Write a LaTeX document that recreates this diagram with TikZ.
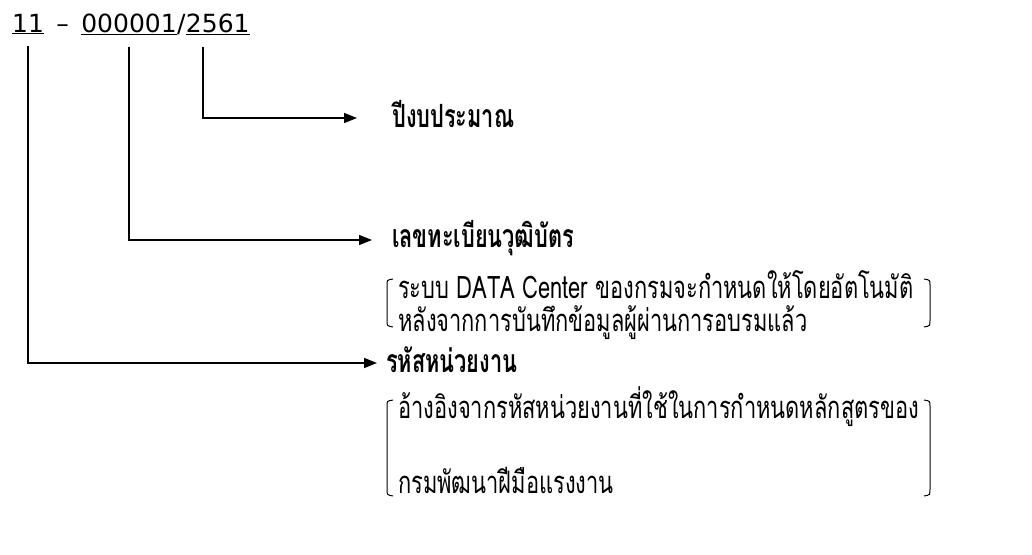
\documentclass[tikz,border=0pt]{standalone}
\usepackage{fontspec}
\setmainfont{DejaVu Sans}
\newfontfamily\thai[Script=Thai,FakeStretch=0.705]{Loma}
\newfontfamily\thaih[Script=Thai,FakeStretch=0.68]{Loma}
\usetikzlibrary{arrows.meta}
\begin{document}
\begin{tikzpicture}[x=1pt,y=-1pt,
  conn/.style={line width=1.6pt,-{Triangle[length=13pt,width=10pt]}},
  brk/.style={line width=1pt},
  titlepart/.style={inner sep=0pt,anchor=base west,font=\fontsize{25}{30}\selectfont},
  head/.style={inner sep=0pt,anchor=west,font=\thaih\bfseries\fontsize{32}{36}\selectfont},
  body/.style={inner sep=0pt,anchor=west,font=\thai\fontsize{31}{36}\selectfont}]
\useasboundingbox (0,0) rectangle (1032,554);
% title
\node[titlepart] (t11) at (12,32) {\underline{11}};
\node[titlepart] (tdash) at (t11.base east) {\kern12pt–\kern12pt\null};
\node[titlepart] (t0001) at (tdash.base east) {\underline{000001}};
\node[titlepart] (tslash) at (t0001.base east) {/};
\node[titlepart] (t2561) at (tslash.base east) {\underline{2561}};
% headings
\node[head] (h1) at (392,114) {ปีงบประมาณ};
\node[head] (h2) at (392,238) {เลขทะเบียนวุฒิบัตร};
\node[head] (h3) at (386,360) {รหัสหน่วยงาน};
% bodies
\node[body] (b1) at (398,285) {ระบบ DATA Center ของกรมจะกำหนดให้โดยอัตโนมัติ};
\node[body] (b2) at (398,323) {หลังจากการบันทึกข้อมูลผู้ผ่านการอบรมแล้ว};
\node[body] (b3) at (398,407) {อ้างอิงจากรหัสหน่วยงานที่ใช้ในการกำหนดหลักสูตรของ};
\node[body] (b4) at (398,480) {กรมพัฒนาฝีมือแรงงาน};
% connectors
\draw[conn,shorten >=35pt] ([shift={(17pt,-12pt)}]t2561.south west) |- ([yshift=-4pt]h1.west);
\draw[conn,shorten >=20pt] ([yshift=-12pt]t0001.south) |- ([yshift=-2pt]h2.west);
\draw[conn,shorten >=9pt] ([yshift=-12pt]t11.south) |- ([yshift=-3pt]h3.west);
% brackets
\draw[brk] (393,279) .. controls (387,280) .. (387,285) -- (387,320) .. controls (387,326) .. (393,327);
\draw[brk] (924,279) .. controls (930,280) .. (930,285) -- (930,320) .. controls (930,326) .. (924,327);
\draw[brk] (393,400) .. controls (387,401) .. (387,406) -- (387,489) .. controls (387,495) .. (393,496);
\draw[brk] (924,400) .. controls (930,401) .. (930,406) -- (930,489) .. controls (930,495) .. (924,496);
\end{tikzpicture}
\end{document}
